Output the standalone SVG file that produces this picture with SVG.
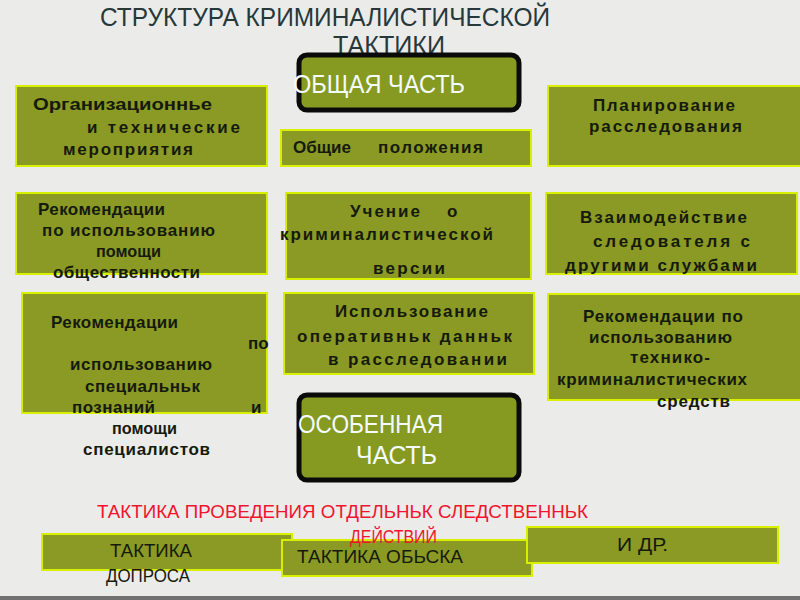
<svg xmlns="http://www.w3.org/2000/svg" width="800" height="600" viewBox="0 0 800 600">
<style>
.box{fill:#8a9a24;stroke:#d8f000;stroke-width:2}
.part{fill:#869a22;stroke:#0a0a0a;stroke-width:5}
.t{font-family:"Liberation Sans",Arial,sans-serif;font-weight:bold;font-size:17px;fill:#161a0c}
.n{font-family:"Liberation Sans",Arial,sans-serif;font-size:19px;fill:#161a0c}
.w{font-family:"Liberation Sans",Arial,sans-serif;font-size:25px;fill:#f4fbff}
.title{font-family:"Liberation Sans",Arial,sans-serif;font-size:26px;fill:#26383a}
.red{font-family:"Liberation Sans",Arial,sans-serif;font-size:18px;fill:#f0142c}
</style>
<rect width="800" height="600" fill="#ebebea"/>
<rect x="0" y="596" width="800" height="4" fill="#707070"/>

<g id="title">
<text class="title" x="100" y="26" textLength="450" lengthAdjust="spacingAndGlyphs">СТРУКТУРА КРИМИНАЛИСТИЧЕСКОЙ</text>
<text class="title" x="333" y="54" textLength="112" lengthAdjust="spacingAndGlyphs" font-size="21">ТАКТИКИ</text>
</g>

<g id="general">
<rect class="part" x="299" y="55" width="220" height="55" rx="8"/>
<text class="w" x="293" y="93" textLength="172" lengthAdjust="spacingAndGlyphs">ОБЩАЯ ЧАСТЬ</text>
</g>

<g id="org">
<rect class="box" x="16" y="86" width="251" height="80"/>
<text class="t" x="33" y="110" textLength="179" lengthAdjust="spacingAndGlyphs">Организационнье</text>
<text class="t" x="87" y="133" textLength="153" lengthAdjust="spacing">и технические</text>
<text class="t" x="63" y="155" textLength="130" lengthAdjust="spacing">мероприятия</text>
</g>

<g id="general-pos">
<rect class="box" x="281" y="130" width="250" height="36"/>
<text class="t" x="293" y="153" textLength="58" lengthAdjust="spacingAndGlyphs">Общие</text>
<text class="t" x="378" y="153" textLength="105" lengthAdjust="spacing">положения</text>
</g>

<g id="plan">
<rect class="box" x="548" y="86" width="254" height="80"/>
<text class="t" x="593" y="111" textLength="142" lengthAdjust="spacing">Планирование</text>
<text class="t" x="589" y="132" textLength="153" lengthAdjust="spacing">расследования</text>
</g>

<g id="public">
<rect class="box" x="16" y="193" width="251" height="81"/>
<text class="t" x="38" y="215" textLength="127" lengthAdjust="spacing">Рекомендации</text>
<text class="t" x="42" y="236" textLength="173" lengthAdjust="spacing">по  использованию</text>
<text class="t" x="96" y="257" textLength="65" lengthAdjust="spacingAndGlyphs">помощи</text>
<text class="t" x="53" y="278" textLength="147" lengthAdjust="spacing">общественности</text>
</g>

<g id="version">
<rect class="box" x="286" y="193" width="245" height="86"/>
<text class="t" x="350" y="217" textLength="70" lengthAdjust="spacing">Учение</text>
<text class="t" x="447" y="217">о</text>
<text class="t" x="280" y="240" textLength="213" lengthAdjust="spacing">криминалистической</text>
<text class="t" x="373" y="274" textLength="72" lengthAdjust="spacing">версии</text>
</g>

<g id="interact">
<rect class="box" x="546" y="193" width="251" height="81"/>
<text class="t" x="580" y="223" textLength="167" lengthAdjust="spacing">Взаимодействие</text>
<text class="t" x="593" y="247" textLength="157" lengthAdjust="spacing">следователя  с</text>
<text class="t" x="565" y="271" textLength="192" lengthAdjust="spacing">другими  службами</text>
</g>

<g id="special">
<rect class="box" x="22" y="293" width="245" height="120"/>
<text class="t" x="51" y="328" textLength="127" lengthAdjust="spacing">Рекомендации</text>
<text class="t" x="248" y="349">по</text>
<text class="t" x="70" y="370" textLength="142" lengthAdjust="spacing">использованию</text>
<text class="t" x="85" y="392" textLength="115" lengthAdjust="spacing">специальньк</text>
<text class="t" x="72" y="413" textLength="83" lengthAdjust="spacing">познаний</text>
<text class="t" x="251" y="413">и</text>
<text class="t" x="112" y="434" textLength="65" lengthAdjust="spacingAndGlyphs">помощи</text>
<text class="t" x="83" y="455" textLength="127" lengthAdjust="spacing">специалистов</text>
</g>

<g id="oper">
<rect class="box" x="284" y="293" width="250" height="81"/>
<text class="t" x="335" y="317" textLength="153" lengthAdjust="spacing">Использование</text>
<text class="t" x="297" y="342" textLength="215" lengthAdjust="spacing">оперативньк  данньк</text>
<text class="t" x="328" y="365" textLength="179" lengthAdjust="spacing">в  расследовании</text>
</g>

<g id="tech">
<rect class="box" x="548" y="294" width="254" height="106"/>
<text class="t" x="583" y="322" textLength="160" lengthAdjust="spacing">Рекомендации  по</text>
<text class="t" x="589" y="343" textLength="143" lengthAdjust="spacing">использованию</text>
<text class="t" x="630" y="363" textLength="80" lengthAdjust="spacing">технико-</text>
<text class="t" x="557" y="385" textLength="190" lengthAdjust="spacing">криминалистических</text>
<text class="t" x="657" y="407" textLength="73" lengthAdjust="spacing">средств</text>
</g>

<g id="particular">
<rect class="part" x="299" y="395" width="220" height="85" rx="8"/>
<text class="w" x="298" y="433" textLength="145" lengthAdjust="spacingAndGlyphs">ОСОБЕННАЯ</text>
<text class="w" x="356" y="464" textLength="81" lengthAdjust="spacingAndGlyphs">ЧАСТЬ</text>
</g>

<g id="interrogation">
<rect class="box" x="42" y="534" width="250" height="36"/>
<text class="n" x="110" y="557" textLength="82" lengthAdjust="spacingAndGlyphs">ТАКТИКА</text>
<text class="n" x="106" y="582" textLength="84" lengthAdjust="spacingAndGlyphs">ДОПРОСА</text>
</g>

<g id="search">
<rect class="box" x="282" y="540" width="250" height="36"/>
<text class="n" x="297" y="563" textLength="166" lengthAdjust="spacingAndGlyphs">ТАКТИКА  ОБЬСКА</text>
</g>

<g id="other">
<rect class="box" x="527" y="527" width="251" height="36"/>
<text class="n" x="617" y="551" textLength="51" lengthAdjust="spacingAndGlyphs">И  ДР.</text>
</g>

<g id="heading2">
<text class="red" x="97" y="518" textLength="491" lengthAdjust="spacingAndGlyphs">ТАКТИКА  ПРОВЕДЕНИЯ  ОТДЕЛЬНЬК  СЛЕДСТВЕННЬК</text>
<text class="red" x="350" y="543" textLength="87" lengthAdjust="spacingAndGlyphs">ДЕЙСТВИЙ</text>
</g>

<g id="connectors"></g>
</svg>
